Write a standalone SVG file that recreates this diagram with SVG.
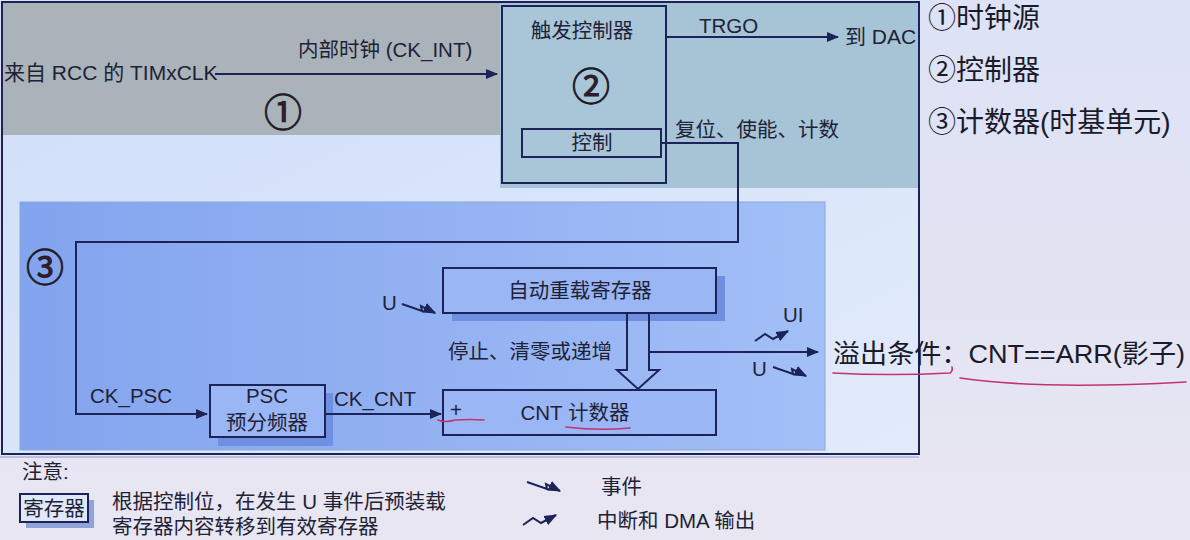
<svg xmlns="http://www.w3.org/2000/svg" width="1190" height="540" viewBox="0 0 1190 540">
<style>
text{font-family:"Liberation Sans","Noto Sans CJK SC",sans-serif;fill:#1e2236;}
.t19{font-size:20.5px;}
.t20{font-size:21px;}
.big{font-size:28px;fill:#1a1a2a;}
.c{text-anchor:middle;}
.box{fill:#9ab6f5;stroke:#1c2358;stroke-width:2;}
.shadow{fill:#6f8fe0;}
.ln{fill:none;stroke:#1c2358;stroke-width:2;}
.sym{fill:none;stroke:#1c2358;stroke-width:2;}
.pen{fill:none;stroke:#c2336c;stroke-width:1.6;stroke-linecap:round;}
.num{font-size:38px;fill:#3a1a24;stroke:#1a1a2a;stroke-width:0.9;}
</style>
<defs>
<linearGradient id="g3" x1="0" y1="0" x2="1" y2="0">
<stop offset="0" stop-color="#83a4ee"/><stop offset="1" stop-color="#a3bff7"/>
</linearGradient>
<linearGradient id="gl" x1="0" y1="0" x2="1" y2="1">
<stop offset="0" stop-color="#cfdefa"/><stop offset="1" stop-color="#e2ebfb"/>
</linearGradient>
<linearGradient id="gr" x1="0" y1="0" x2="0" y2="1">
<stop offset="0" stop-color="#dde2f6"/><stop offset="1" stop-color="#e8e6f1"/>
</linearGradient>
<marker id="ah" viewBox="0 0 12 10" refX="11" refY="5" markerWidth="12" markerHeight="10" markerUnits="userSpaceOnUse" orient="auto">
<path d="M0,0 L12,5 L0,10 z" fill="#1c2358"/>
</marker>
<marker id="ahs" viewBox="0 0 10 8" refX="9" refY="4" markerWidth="13" markerHeight="11" markerUnits="userSpaceOnUse" orient="auto">
<path d="M0,0 L10,4 L0,8 z" fill="#1c2358"/>
</marker>
<g id="evt"><path class="sym" d="M0,0 L20,7 L19,2 L33,9" marker-end="url(#ahs)"/></g>
<g id="irq"><path class="sym" d="M0,0 L10,-7 L18,-2 L33,-10" marker-end="url(#ahs)"/></g>
</defs>

<!-- backgrounds -->
<rect x="0" y="0" width="1190" height="540" fill="url(#gr)"/>
<rect x="2" y="2" width="917" height="452" fill="url(#gl)"/>
<rect x="3" y="3" width="498" height="132" fill="#aab2ba"/>
<rect x="500" y="3" width="418" height="185" fill="#a6c4d6"/>
<rect x="20" y="202" width="805" height="248" fill="url(#g3)" stroke="#8ea6d8" stroke-width="1"/>
<rect x="2" y="2" width="917" height="452" fill="none" stroke="#1c2358" stroke-width="2"/>
<line x1="0" y1="457" x2="919" y2="457" stroke="#8a9ac8" stroke-width="1"/>

<g id="region1">
<text class="t20" x="4" y="80">来自 RCC 的 TIMxCLK</text>
<text class="t19" x="298" y="57">内部时钟 (CK_INT)</text>
<text class="num c" x="283" y="126">①</text>
</g>

<g id="trigger-controller">
<rect x="502" y="6" width="164" height="177" fill="#a8c6d8" stroke="#1c2358" stroke-width="2"/>
<text class="t19 c" x="582" y="38">触发控制器</text>
<text class="num c" x="591" y="100">②</text>
</g>
<g id="control">
<rect x="522" y="129" width="139" height="28" fill="#a8c6d8" stroke="#1c2358" stroke-width="2"/>
<text class="t19 c" x="592" y="150">控制</text>
</g>
<g id="labels2">
<text class="t19" x="699" y="33">TRGO</text>
<text class="t20" x="845" y="44">到 DAC</text>
<text class="t19" x="675" y="137">复位、使能、计数</text>
</g>

<g id="region3">
<text class="num c" x="45" y="281">③</text>
</g>

<g id="psc">
<rect class="shadow" x="218" y="393" width="115" height="53"/>
<rect class="box" x="210" y="385" width="115" height="52"/>
<text class="t19 c" x="267" y="403">PSC</text>
<text class="t19 c" x="267" y="430">预分频器</text>
</g>

<g id="arr">
<rect class="shadow" x="452" y="276" width="273" height="45"/>
<rect class="box" x="443" y="268" width="273" height="45"/>
<text class="t19 c" x="580" y="298">自动重载寄存器</text>
</g>

<g id="cnt">
<rect class="box" x="443" y="390" width="273" height="45"/>
<text class="t19" x="450" y="417">+</text>
<text class="t19 c" x="575" y="420">CNT 计数器</text>
</g>

<g id="connectors">
<line class="ln" x1="215" y1="74" x2="497" y2="74" marker-end="url(#ah)"/>
<line class="ln" x1="667" y1="37" x2="838" y2="37" marker-end="url(#ah)"/>
<path class="ln" d="M661,143 H738 V242 H76 V414 H207" marker-end="url(#ah)"/>
<line class="ln" x1="325" y1="414" x2="441" y2="414" marker-end="url(#ah)"/>
<path class="ln" d="M627,313 V370 H617 L638,389 L659,370 H649 V313"/>
<line class="ln" x1="649" y1="352" x2="818" y2="352" marker-end="url(#ah)"/>
<use href="#evt" x="402" y="304"/>
<use href="#irq" x="755" y="341"/>
<use href="#evt" x="773" y="367"/>
</g>

<g id="signal-labels">
<text class="t19" x="382" y="310">U</text>
<text class="t19" x="448" y="359">停止、清零或递增</text>
<text class="t19" x="90" y="403">CK_PSC</text>
<text class="t19" x="334" y="406">CK_CNT</text>
<text class="t19" x="783" y="322">UI</text>
<text class="t19" x="752" y="376">U</text>
</g>

<g id="legend">
<text class="t19" x="22" y="479">注意:</text>
<rect x="26" y="500" width="68" height="28" fill="#8fa3d8"/>
<rect x="20" y="494" width="68" height="28" fill="#dfe7fa" stroke="#1c2358" stroke-width="2"/>
<text class="t19 c" x="54" y="516">寄存器</text>
<text class="t19" x="112" y="509">根据控制位，在发生 U 事件后预装载</text>
<text class="t19" x="112" y="534">寄存器内容转移到有效寄存器</text>
<use href="#evt" x="527" y="482"/>
<text class="t19" x="601" y="494">事件</text>
<use href="#irq" x="523" y="525"/>
<text class="t19" x="597" y="528">中断和 DMA 输出</text>
</g>

<g id="notes">
<text class="big" x="928" y="28">①时钟源</text>
<text class="big" x="928" y="80">②控制器</text>
<text class="big" x="928" y="132">③计数器(时基单元)</text>
<text class="big" x="833" y="363" style="font-size:26px" textLength="352" lengthAdjust="spacingAndGlyphs">溢出条件：CNT==ARR(影子)</text>
</g>

<g id="annotations">
<path class="pen" d="M833,373 Q890,376 950,373 Q953,371 952,367"/>
<path class="pen" d="M960,378 Q1040,390 1186,382"/>
<path class="pen" d="M438,420 Q445,423 455,420 Q470,419 484,420"/>
<path class="pen" d="M566,427 Q598,431 630,428"/>
</g>
</svg>
